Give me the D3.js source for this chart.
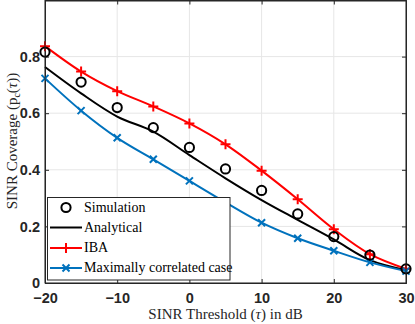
<!DOCTYPE html>
<html><head><meta charset="utf-8">
<script src="https://cdn.jsdelivr.net/npm/d3@7"></script>
<style>body{margin:0;background:#fff}svg{display:block}</style>
</head><body><svg id="c" width="415" height="324"></svg>
<script>
const thresholds = [-20,-15,-10,-5,0,5,10,15,20,25,30];
const simulation = [0.816,0.710,0.620,0.549,0.479,0.403,0.327,0.244,0.164,0.099,0.050];
const analytical = [0.763,0.670,0.588,0.535,0.452,0.370,0.293,0.223,0.154,0.081,0.046];
const iba = [0.837,0.747,0.678,0.624,0.564,0.490,0.397,0.296,0.190,0.102,0.050];
const maxCorr = [0.723,0.609,0.513,0.437,0.361,0.285,0.213,0.158,0.114,0.073,0.042];
const xTicks = [-20,-10,0,10,20,30];
const yTicks = [0,0.2,0.4,0.6,0.8];
const legendLabels = ["Simulation","Analytical","IBA","Maximally correlated case"];

const svg = d3.select("#c");
const L=45,R=406,T=0,B=283;
const x = d3.scaleLinear().domain([-20,30]).range([L,R]);
const y = d3.scaleLinear().domain([0,1]).range([B,T]);
const axisCol="#262626";
const serif = "'Liberation Serif', 'Times New Roman', serif";
const tickFont = "'Liberation Sans', Arial, sans-serif";

// grid
svg.append("g").selectAll("line").data(xTicks).join("line")
 .attr("x1",d=>x(d)).attr("x2",d=>x(d)).attr("y1",T).attr("y2",B)
 .attr("stroke","#e6e6e6").attr("stroke-width",1);
svg.append("g").selectAll("line").data(yTicks).join("line")
 .attr("y1",d=>y(d)).attr("y2",d=>y(d)).attr("x1",L).attr("x2",R)
 .attr("stroke","#e6e6e6").attr("stroke-width",1);

const gx = svg.append("g").attr("transform",`translate(0,${B})`)
 .call(d3.axisBottom(x).tickValues(xTicks).tickSize(-4).tickPadding(10).tickFormat(d3.format("d")));
const gxt = svg.append("g").attr("transform",`translate(0,${T+0.5})`)
 .call(d3.axisTop(x).tickValues(xTicks).tickSize(-4).tickFormat(""));
const gy = svg.append("g").attr("transform",`translate(${L},0)`)
 .call(d3.axisLeft(y).tickValues(yTicks).tickSize(-4).tickPadding(5).tickFormat(d=>d===0?"0":d3.format(".1f")(d)));
const gyr = svg.append("g").attr("transform",`translate(${R},0)`)
 .call(d3.axisRight(y).tickValues(yTicks).tickSize(-4).tickFormat(""));
[gx,gxt,gy,gyr].forEach(g=>{
  g.selectAll("path,line").attr("stroke",axisCol);
  g.selectAll("text").attr("fill","#262626").style("font-family",tickFont)
   .attr("font-weight","bold").style("font-size","14.5px");
});

// lines
const line = d3.line().x((d,i)=>x(thresholds[i])).y(d=>y(d)).curve(d3.curveCatmullRom.alpha(0.5));
const lines = svg.append("g");
lines.append("path").datum(analytical).attr("d",line).attr("fill","none").attr("stroke","#000").attr("stroke-width",2);
lines.append("path").datum(iba).attr("d",line).attr("fill","none").attr("stroke","#ff0000").attr("stroke-width",2);
lines.append("path").datum(maxCorr).attr("d",line).attr("fill","none").attr("stroke","#0072bd").attr("stroke-width",2);

function plus(g,cx,cy,s,col){
  g.append("path").attr("d",`M${cx-s},${cy}H${cx+s}M${cx},${cy-s}V${cy+s}`).attr("stroke",col).attr("stroke-width",2);
}
function cross(g,cx,cy,s,col){
  g.append("path").attr("d",`M${cx-s},${cy-s}L${cx+s},${cy+s}M${cx-s},${cy+s}L${cx+s},${cy-s}`).attr("stroke",col).attr("stroke-width",2);
}
const mk = svg.append("g");
iba.forEach((v,i)=>plus(mk,x(thresholds[i]),y(v),5,"#ff0000"));
maxCorr.forEach((v,i)=>cross(mk,x(thresholds[i]),y(v),3.5,"#0072bd"));
mk.selectAll("circle").data(simulation).join("circle")
 .attr("cx",(d,i)=>x(thresholds[i])).attr("cy",d=>y(d)).attr("r",4.6)
 .attr("fill","none").attr("stroke","#000").attr("stroke-width",2);

// legend
const lg = svg.append("g");
lg.append("rect").attr("x",47.5).attr("y",197.5).attr("width",182.5).attr("height",82.5)
 .attr("fill","#fff").attr("stroke","#262626").attr("stroke-width",1);
const ly = [207.5,227.5,248,268];
lg.append("circle").attr("cx",66).attr("cy",ly[0]).attr("r",4.6).attr("fill","none").attr("stroke","#000").attr("stroke-width",2);
lg.append("line").attr("x1",50).attr("x2",82).attr("y1",ly[1]).attr("y2",ly[1]).attr("stroke","#000").attr("stroke-width",2);
lg.append("line").attr("x1",50).attr("x2",82).attr("y1",ly[2]).attr("y2",ly[2]).attr("stroke","#ff0000").attr("stroke-width",2);
plus(lg,66,ly[2],5,"#ff0000");
lg.append("line").attr("x1",50).attr("x2",82).attr("y1",ly[3]).attr("y2",ly[3]).attr("stroke","#0072bd").attr("stroke-width",2);
cross(lg,66,ly[3],3.5,"#0072bd");
lg.selectAll("text").data(legendLabels).join("text")
 .attr("x",84).attr("y",(d,i)=>ly[i]).attr("dy","0.32em")
 .style("font-family",serif).style("font-size","14px").attr("fill","#000").text(d=>d);

// box on top
svg.append("rect").attr("x",L).attr("y",T+0.5).attr("width",R-L).attr("height",B-T-0.5)
 .attr("fill","none").attr("stroke",axisCol).attr("stroke-width",1);

// axis labels
const xl = svg.append("text").attr("x",(L+R)/2).attr("y",319).attr("text-anchor","middle")
 .style("font-family",serif).style("font-size","15px").attr("fill","#262626");
xl.append("tspan").text("SINR Threshold (");
xl.append("tspan").attr("font-style","italic").text("τ");
xl.append("tspan").text(") in dB");

const yl = svg.append("text").attr("transform",`translate(17,141) rotate(-90)`).attr("text-anchor","middle")
 .style("font-family",serif).style("font-size","15px").attr("fill","#262626");
yl.append("tspan").text("SINR Coverage (p");
yl.append("tspan").style("font-size","10px").attr("dy","3").text("c");
yl.append("tspan").attr("dy","-3").text("(");
yl.append("tspan").attr("font-style","italic").text("τ");
yl.append("tspan").text("))");
</script></body></html>
